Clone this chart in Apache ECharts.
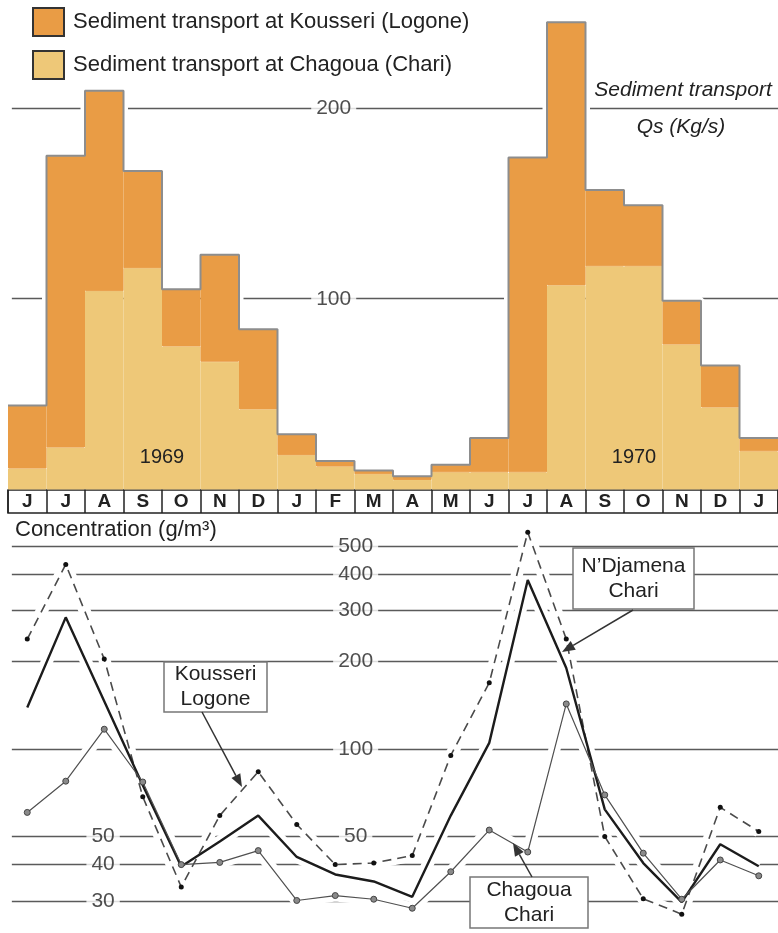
<!DOCTYPE html>
<html>
<head>
<meta charset="utf-8">
<script src="https://cdn.jsdelivr.net/npm/echarts@6/dist/echarts.min.js"></script>
<style>
  html, body { margin: 0; padding: 0; background: #fff; }
  #c { width: 778px; height: 933px; }
</style>
</head>
<body>
<div id="c"></div>
<script>
// Months from June 1969 to January 1971
const months = ['J','J','A','S','O','N','D','J','F','M','A','M','J','J','A','S','O','N','D','J'];

// Monthly sediment transport Qs (kg/s), stacked: Chagoua below, Kousseri on top
const chagouaQs  = [11, 22, 104, 116, 75, 67, 42, 18, 12, 8, 5, 9, 9, 9, 107, 117, 117, 76, 43, 20];
const kousseriQs = [33, 153, 105, 51, 30, 56, 42, 11, 3, 2, 2, 4, 18, 165, 138, 40, 32, 23, 22, 7];
const qsTicks = [200, 100];

// Suspended sediment concentration (g/m3)
const kousseriConc = [239, 432, 204, 68.5, 33.5, 59, 83.5, 55, 40, 40.5, 43, 95, 169, 558, 239, 50, 30.5, 27, 63, 52];
const ndjamenaConc = [139, 284, 146, 75, 39.4, 48, 59, 42.5, 37, 35, 31, 59, 105, 382, 190, 62, 40.5, 29.7, 47, 39.5];
const chagouaConc  = [60.5, 77.5, 117, 77, 40, 40.7, 44.7, 30.1, 31.3, 30.4, 28.3, 37.8, 52.6, 44.2, 143, 69.5, 43.8, 30.4, 41.5, 36.6];
const concTicks = [500, 400, 300, 200, 100, 50, 40, 30];
const concTicksCentre = [500, 400, 300, 200, 100, 50];
const concTicksLeft = [50, 40, 30];

const years = ['1969', '1970'];

const FONT = '"Liberation Sans", Arial, Helvetica, sans-serif';
const INK = '#222';
const GRIDLINE = '#5a5a5a';
const ORANGE = '#E99C45';
const LIGHT = '#EEC878';
const NAME_K = 'Sediment transport at Kousseri (Logone)';
const NAME_C = 'Sediment transport at Chagoua (Chari)';

const N = months.length;
const totalQs = chagouaQs.map((v, i) => v + kousseriQs[i]);
// step outline along the top of the stacked columns (value axis runs 0..N over month edges)
const stepOutline = [];
totalQs.forEach((v, i) => { stepOutline.push([i, v], [i + 1, v]); });
const atCentre = arr => arr.map((v, i) => [i + 0.5, v]);

function arrow(x1, y1, x2, y2) {
  const a = Math.atan2(y2 - y1, x2 - x1), L = 13, W = 5;
  const bx = x2 - L * Math.cos(a), by = y2 - L * Math.sin(a);
  const px = -Math.sin(a) * W, py = Math.cos(a) * W;
  return [
    { type: 'line', z: 100, shape: { x1, y1, x2: bx, y2: by }, style: { stroke: '#333', lineWidth: 1.5 } },
    { type: 'polygon', z: 100, shape: { points: [[x2, y2], [bx + px, by + py], [bx - px, by - py]] }, style: { fill: '#333' } }
  ];
}
function noteBox(x, y, w, h, text) {
  return {
    type: 'group', z: 100,
    children: [
      { type: 'rect', z: 100, shape: { x, y, width: w, height: h }, style: { fill: '#fff', stroke: '#777', lineWidth: 1.5 } },
      { type: 'text', z: 101, style: { text, x: x + w / 2, y: y + h / 2, align: 'center', verticalAlign: 'middle',
          fontSize: 21, fontFamily: FONT, fill: INK, lineHeight: 25 } }
    ]
  };
}
function plainText(text, x, y, size, extra) {
  return { type: 'text', z: 100, style: Object.assign({ text, x, y, align: 'center', verticalAlign: 'middle',
      fontSize: size, fontFamily: FONT, fill: INK }, extra || {}) };
}

const tickLabel = {
  show: true, position: 'inside', formatter: p => String(p.value[1]),
  fontSize: 21, fontFamily: FONT, color: INK, backgroundColor: '#fff', padding: [1, 5]
};
// horizontal reference lines, starting a little inside the left edge
const gridMarkLine = values => ({
  silent: true, z: 1, symbol: ['none', 'none'], label: { show: false },
  lineStyle: { color: GRIDLINE, width: 1.4, type: 'solid' },
  data: values.map(v => [{ coord: [0.1, v] }, { coord: [N, v] }])
});

const option = {
  animation: false,
  backgroundColor: '#fff',
  legend: {
    data: [NAME_K, NAME_C], left: 32, top: 7, orient: 'vertical', padding: 0,
    itemWidth: 31, itemHeight: 28, itemGap: 13, icon: 'rect', selectedMode: false,
    itemStyle: { borderColor: '#333', borderWidth: 2 },
    textStyle: { fontSize: 22, color: INK, fontFamily: FONT, padding: [0, 0, 0, 4] }
  },
  grid: [
    { left: 8, right: 0, top: 12.6, bottom: 443.5 },
    { left: 8, right: 0, top: 523, bottom: 9.1 },
    { left: 8, right: 0, top: 490, height: 23, show: true, borderColor: INK, borderWidth: 1.5, backgroundColor: '#fff' }
  ],
  xAxis: [
    { gridIndex: 0, type: 'category', data: months, boundaryGap: true, show: false },
    { gridIndex: 0, type: 'value', min: 0, max: N, show: false },
    { gridIndex: 1, type: 'value', min: 0, max: N, show: false },
    { gridIndex: 2, type: 'category', data: months, boundaryGap: true, position: 'bottom',
      axisLine: { show: false },
      axisTick: { show: true, inside: true, length: 23, interval: 0, lineStyle: { color: INK, width: 1.5 } },
      axisLabel: { inside: true, interval: 0, margin: 2, fontSize: 19, fontWeight: 'bold', color: INK, fontFamily: FONT },
      splitLine: { show: false } }
  ],
  yAxis: [
    { gridIndex: 0, type: 'value', min: 0, max: 250, show: false },
    { gridIndex: 1, type: 'log', min: 25, max: 600, show: false },
    { gridIndex: 2, type: 'value', show: false }
  ],
  series: [
    // ---- sediment transport panel ----
    { type: 'line', xAxisIndex: 1, yAxisIndex: 0, data: [], silent: true, z: 1, markLine: gridMarkLine(qsTicks) },
    { type: 'line', xAxisIndex: 1, yAxisIndex: 0, data: stepOutline, silent: true, z: 2,
      symbol: 'none', lineStyle: { color: '#fff', width: 9 } },
    { name: NAME_C, type: 'bar', xAxisIndex: 0, yAxisIndex: 0, stack: 'qs', data: chagouaQs, z: 3,
      barCategoryGap: '0%', barGap: '0%', itemStyle: { color: LIGHT, borderColor: LIGHT, borderWidth: 1 } },
    { name: NAME_K, type: 'bar', xAxisIndex: 0, yAxisIndex: 0, stack: 'qs', data: kousseriQs, z: 3,
      barCategoryGap: '0%', barGap: '0%', itemStyle: { color: ORANGE, borderColor: ORANGE, borderWidth: 1 } },
    { type: 'line', xAxisIndex: 1, yAxisIndex: 0, data: stepOutline, silent: true, z: 4,
      symbol: 'none', lineStyle: { color: '#8d8d8d', width: 2 } },
    { type: 'scatter', xAxisIndex: 1, yAxisIndex: 0, silent: true, z: 5, symbolSize: 1,
      itemStyle: { color: 'rgba(0,0,0,0)' }, label: tickLabel,
      data: qsTicks.map(v => [8.46, v]) },

    // ---- concentration panel ----
    { type: 'line', xAxisIndex: 2, yAxisIndex: 1, data: [], silent: true, z: 1, markLine: gridMarkLine(concTicks) },
    ...[kousseriConc, ndjamenaConc, chagouaConc].map(arr => ({
      type: 'line', xAxisIndex: 2, yAxisIndex: 1, data: atCentre(arr), silent: true, z: 2,
      symbol: 'none', lineStyle: { color: '#fff', width: 12 } })),
    { name: 'Kousseri Logone', type: 'line', xAxisIndex: 2, yAxisIndex: 1, data: atCentre(kousseriConc), z: 3,
      symbol: 'circle', symbolSize: 5, showAllSymbol: true,
      itemStyle: { color: '#111' }, lineStyle: { color: '#4a4a4a', width: 1.6, type: [9, 6] } },
    { name: "N’Djamena Chari", type: 'line', xAxisIndex: 2, yAxisIndex: 1, data: atCentre(ndjamenaConc), z: 3,
      symbol: 'none', lineStyle: { color: '#1c1c1c', width: 2.4 } },
    { name: 'Chagoua Chari', type: 'line', xAxisIndex: 2, yAxisIndex: 1, data: atCentre(chagouaConc), z: 3,
      symbol: 'circle', symbolSize: 6, showAllSymbol: true,
      itemStyle: { color: '#8a8a8a', borderColor: '#444', borderWidth: 1 }, lineStyle: { color: '#505050', width: 1.2 } },
    { type: 'scatter', xAxisIndex: 2, yAxisIndex: 1, silent: true, z: 5, symbolSize: 1,
      itemStyle: { color: 'rgba(0,0,0,0)' }, label: tickLabel,
      data: concTicksCentre.map(v => [9.03, v]).concat(concTicksLeft.map(v => [2.47, v])) }
  ],
  graphic: [
    plainText(years[0], 162, 457, 20),
    plainText(years[1], 634, 457, 20),
    plainText('Sediment transport', 683, 90, 21, { fontStyle: 'italic' }),
    plainText('Qs (Kg/s)', 681, 127, 21, { fontStyle: 'italic' }),
    plainText('Concentration (g/m³)', 15, 530, 22, { align: 'left' }),
    noteBox(164, 662, 103, 50, 'Kousseri\nLogone'),
    noteBox(573, 548, 121, 61, 'N’Djamena\nChari'),
    noteBox(470, 877, 118, 51, 'Chagoua\nChari'),
    ...arrow(202, 712, 242, 787),
    ...arrow(633, 610, 562, 652),
    ...arrow(532, 877, 513, 843)
  ]
};

const chart = echarts.init(document.getElementById('c'));
chart.setOption(option);
</script>
</body>
</html>
